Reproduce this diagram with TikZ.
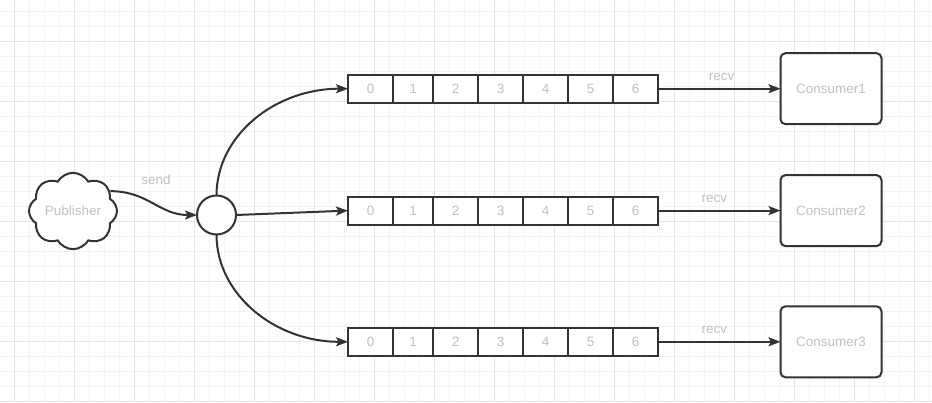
\documentclass[tikz,border=0pt]{standalone}
\usepackage{fontspec}
\setmainfont{Liberation Sans}
\usetikzlibrary{positioning,shapes.symbols,arrows.meta}
\definecolor{linec}{RGB}{51,51,51}
\definecolor{textc}{RGB}{196,192,186}
\definecolor{gridminor}{RGB}{243,243,243}
\definecolor{gridmajor}{RGB}{228,228,228}
\tikzset{
	lbl/.style={text=textc, font=\fontsize{13.5}{16}\selectfont, inner sep=0pt},
	cell/.style={draw=linec, line width=2pt, minimum height=28pt, inner sep=0pt, outer sep=0pt, anchor=west, lbl},
	consumer/.style={draw=linec, line width=2pt, rounded corners=5pt, minimum width=101pt, minimum height=71pt, outer sep=0pt, lbl},
	link/.style={draw=linec, line width=2pt, -{Stealth[length=12pt,width=9pt,inset=2.5pt]}},
}
\begin{document}
\begin{tikzpicture}[x=1pt,y=-1pt]
		\fill[white] (0,0) rectangle (932,402);
		\useasboundingbox (0,0) rectangle (932,402);
		% grid
		\foreach \gx in {0,...,61} \draw[gridminor, line width=1pt] (14.3+15*\gx,0)--++(0,402);
		\foreach \gy in {0,...,26} \draw[gridminor, line width=1pt] (0,11.5+15*\gy)--++(932,0);
		\foreach \gx in {0,...,15} \draw[gridmajor, line width=1pt] (14.3+60*\gx,0)--++(0,402);
		\foreach \gy in {0,...,6} \draw[gridmajor, line width=1pt] (0,41.3+60*\gy)--++(932,0);
		
		\node[cloud, cloud puffs=8, cloud puff arc=120, aspect=1.25, draw=linec, line width=2pt, minimum width=88pt, minimum height=70pt, fill=white, lbl] (pub) at (73,211) {Publisher};
		\node[circle, draw=linec, line width=2pt, minimum size=39pt, outer sep=0pt, fill=white] (hub) at (216.5,215) {};
		\node[lbl] (send) at (156,179.7) {send};
		
		% queues
		\foreach \r/\y in {1/88.7,2/210.6,3/341.8}{
			\foreach \k/\x/\w in {0/348/45,1/393/40,2/433/45,3/478/45,4/523/45,5/568/45,6/613/45}
				\node[cell, minimum width=\w pt, fill=white] (q\r-\k) at (\x,\y) {\k};
			\node[consumer, fill=white] (con\r) at (831,\y) {Consumer\r};
		}
		
		\draw[link] (pub.28) .. controls +(38,0) and +(-38,0) .. (hub.west);
		\draw[link] (hub.north) .. controls +(0,-60) and +(-73,0) .. (q1-0.west);
		\draw[link] (hub.east)--(q2-0.west);
		\draw[link] (hub.south) .. controls +(0,60) and +(-73,0) .. (q3-0.west);
		\foreach \r/\p in {1/0.52,2/0.46,3/0.46}
			\draw[link] (q\r-6.east)-- node[lbl, pos=\p, yshift=12pt] {recv} (con\r.west);
	\end{tikzpicture}
\end{document}
